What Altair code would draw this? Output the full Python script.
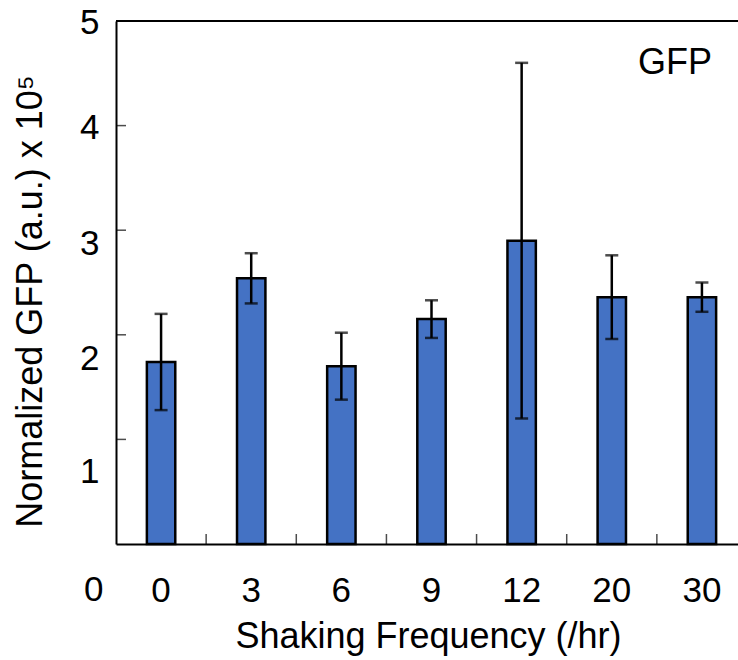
import altair as alt
import pandas as pd

# ---- data ----
categories = ["0", "3", "6", "9", "12", "20", "30"]
gfp_mean = [1.74, 2.54, 1.70, 2.15, 2.90, 2.36, 2.36]
gfp_err = [0.46, 0.24, 0.32, 0.18, 1.70, 0.40, 0.14]
y_tick_values = [0, 1, 2, 3, 4, 5]
inner_y_ticks = [1, 2, 3, 4]

df = pd.DataFrame({"freq": categories, "mean": gfp_mean, "err": gfp_err})
df["lo"] = df["mean"] - df["err"]
df["hi"] = df["mean"] + df["err"]
ticks_df = pd.DataFrame({"v": inner_y_ticks})

FONT = "Liberation Sans"
W, H = 622, 523

xscale = alt.Scale(domain=categories, range=[0, 631], paddingInner=0, paddingOuter=0)
yscale = alt.Scale(domain=[0, 5], nice=False, zero=True)

x_enc = alt.X(
    "freq:N",
    sort=categories,
    scale=xscale,
    title="Shaking Frequency (/hr)",
    axis=alt.Axis(
        labelAngle=0,
        ticks=False,
        tickSize=0,
        domainColor="black",
        domainWidth=2,
        labelFont=FONT,
        labelFontSize=35,
        labelColor="black",
        labelPadding=29,
        titleFont=FONT,
        titleFontSize=36,
        titleFontWeight="normal",
        titleColor="black",
        titlePadding=11,
        titleX=312,
    ),
)

y_enc = alt.Y(
    "mean:Q",
    scale=yscale,
    title="Normalized GFP (a.u.) x 10⁵",
    axis=alt.Axis(
        values=y_tick_values,
        format="d",
        ticks=False,
        tickSize=0,
        grid=False,
        domainColor="black",
        domainWidth=2,
        labelFont=FONT,
        labelFontSize=35,
        labelColor="black",
        labelPadding={
            "condition": [{"test": "datum.value == 0", "value": 13}],
            "value": 17,
        },
        labelOffset={
            "condition": [
                {"test": "datum.value == 0", "value": 45},
                {"test": "datum.value == 1", "value": 32},
                {"test": "datum.value == 2", "value": 24},
                {"test": "datum.value == 3", "value": 13},
                {"test": "datum.value == 4", "value": 2},
            ],
            "value": 1,
        },
        titleFont=FONT,
        titleFontSize=36,
        titleFontWeight="normal",
        titleColor="black",
        titlePadding=30,
        titleY=280,
    ),
)

base = alt.Chart(df)

bars = base.mark_bar(
    width=alt.RelativeBandSize(0.315),
    color="#4472C4",
    stroke="black",
    strokeWidth=2.5,
).encode(x=x_enc, y=y_enc)

err_rule = base.mark_rule(color="black", strokeWidth=2.5).encode(
    x=alt.X("freq:N", sort=categories),
    y="lo:Q",
    y2="hi:Q",
)
cap_lo = base.mark_tick(color="black", size=13, thickness=2.5, orient="horizontal").encode(
    x=alt.X("freq:N", sort=categories), y="lo:Q"
)
cap_hi = base.mark_tick(color="black", size=13, thickness=2.5, orient="horizontal").encode(
    x=alt.X("freq:N", sort=categories), y="hi:Q"
)

# inward tick marks at category boundaries on the x axis
x_ticks = base.mark_tick(
    color="black", size=20, thickness=1.5, orient="vertical", clip=True
).encode(
    x=alt.X("freq:N", sort=categories, bandPosition=0),
    y=alt.datum(0),
)

# inward tick marks on the y axis
y_ticks = alt.Chart(ticks_df).mark_tick(
    color="black", size=20, thickness=1.5, orient="horizontal", clip=True
).encode(
    y=alt.Y("v:Q"),
    x=alt.value(0),
)

# top border line
top_line = alt.Chart(ticks_df).mark_rule(color="black", strokeWidth=2).encode(
    y=alt.datum(5)
)

chart = (
    alt.layer(bars, err_rule, cap_lo, cap_hi, x_ticks, y_ticks, top_line)
    .properties(
        width=W,
        height=H,
        title=alt.TitleParams(
            "GFP",
            anchor="end",
            frame="group",
            orient="top",
            offset=-51,
            dx=-26,
            dy=54,
            baseline="alphabetic",
            font=FONT,
            fontSize=36,
            fontWeight="normal",
            color="black",
        ),
        autosize=alt.AutoSizeParams(type="none"),
        padding={"left": 116, "top": 21, "right": 0, "bottom": 116},
        background="white",
    )
    .configure_view(stroke=None)
)

chart.save("out.html", embed_options={"renderer": "svg", "actions": False})
